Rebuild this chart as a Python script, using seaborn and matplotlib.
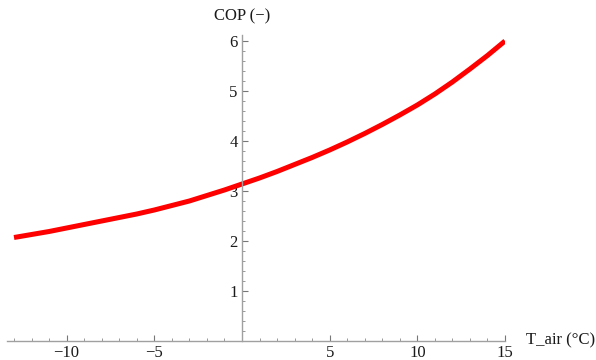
import matplotlib
matplotlib.use("Agg")
import matplotlib.pyplot as plt
from matplotlib.ticker import MultipleLocator, FixedLocator, FixedFormatter
import seaborn as sns
import pandas as pd

# Heat pump COP against outdoor air temperature
t_air = [-13, -12, -11, -10, -9, -8, -7, -6, -5, -4, -3, -2, -1, 0,
         1, 2, 3, 4, 5, 6, 7, 8, 9, 10, 11, 12, 13, 14, 15]
cop = [2.07, 2.13, 2.19, 2.26, 2.33, 2.40, 2.47, 2.54, 2.62, 2.71, 2.80, 2.91, 3.02, 3.14,
       3.26, 3.39, 3.53, 3.67, 3.82, 3.98, 4.15, 4.33, 4.52, 4.72, 4.94, 5.18, 5.44, 5.71, 6.00]

x_ticks = [-10, -5, 5, 10, 15]
x_tick_labels = ["\u221210", "\u22125", "5", "10", "15"]
y_ticks = [1, 2, 3, 4, 5, 6]
y_tick_labels = ["1", "2", "3", "4", "5", "6"]

df = pd.DataFrame({"T_air": t_air, "COP": cop})

sns.set_style("white")
plt.rcParams["font.family"] = ["Liberation Serif", "DejaVu Serif"]

fig = plt.figure(figsize=(5.96, 3.6), dpi=100)
ax = fig.add_axes([7 / 596, 19 / 360, (505 - 7) / 596, (341 - 35) / 360])

sns.lineplot(data=df, x="T_air", y="COP", ax=ax, color="#ff0000", linewidth=3.6,
             solid_capstyle="butt", solid_joinstyle="round")

ax.set_xlim(-13.4, 15.0)
ax.set_ylim(0, 6.12)

axis_grey = "#a0a0a0"
for side in ("top", "right"):
    ax.spines[side].set_visible(False)
ax.spines["left"].set_position(("data", 0))
ax.spines["bottom"].set_position(("data", 0))
for side in ("left", "bottom"):
    ax.spines[side].set_color(axis_grey)
    ax.spines[side].set_linewidth(1.0)

ax.xaxis.set_major_locator(FixedLocator(x_ticks))
ax.xaxis.set_major_formatter(FixedFormatter(x_tick_labels))
ax.yaxis.set_major_locator(FixedLocator(y_ticks))
ax.yaxis.set_major_formatter(FixedFormatter(y_tick_labels))
ax.xaxis.set_minor_locator(MultipleLocator(1))
ax.yaxis.set_minor_locator(MultipleLocator(0.2))

ax.tick_params(axis="both", which="both", bottom=True, left=True, top=False, right=False)
ax.tick_params(axis="both", which="major", direction="in", length=4, width=0.8,
               color="#777777", labelsize=12, labelcolor="#1a1a1a", pad=3)
ax.tick_params(axis="both", which="minor", direction="in", length=2, width=0.6,
               color="#888888")

ax.set_xlabel("")
ax.set_ylabel("")

fig.text(242 / 596, 1 - 16 / 360, "COP (\u2212)", ha="center", va="center",
         fontsize=12, color="#1a1a1a")
fig.text(595 / 596, 1 - 340 / 360, "T_air (\u00b0C)", ha="right", va="center",
         fontsize=12, color="#1a1a1a")

fig.savefig("out.png", dpi=100, facecolor="white")
